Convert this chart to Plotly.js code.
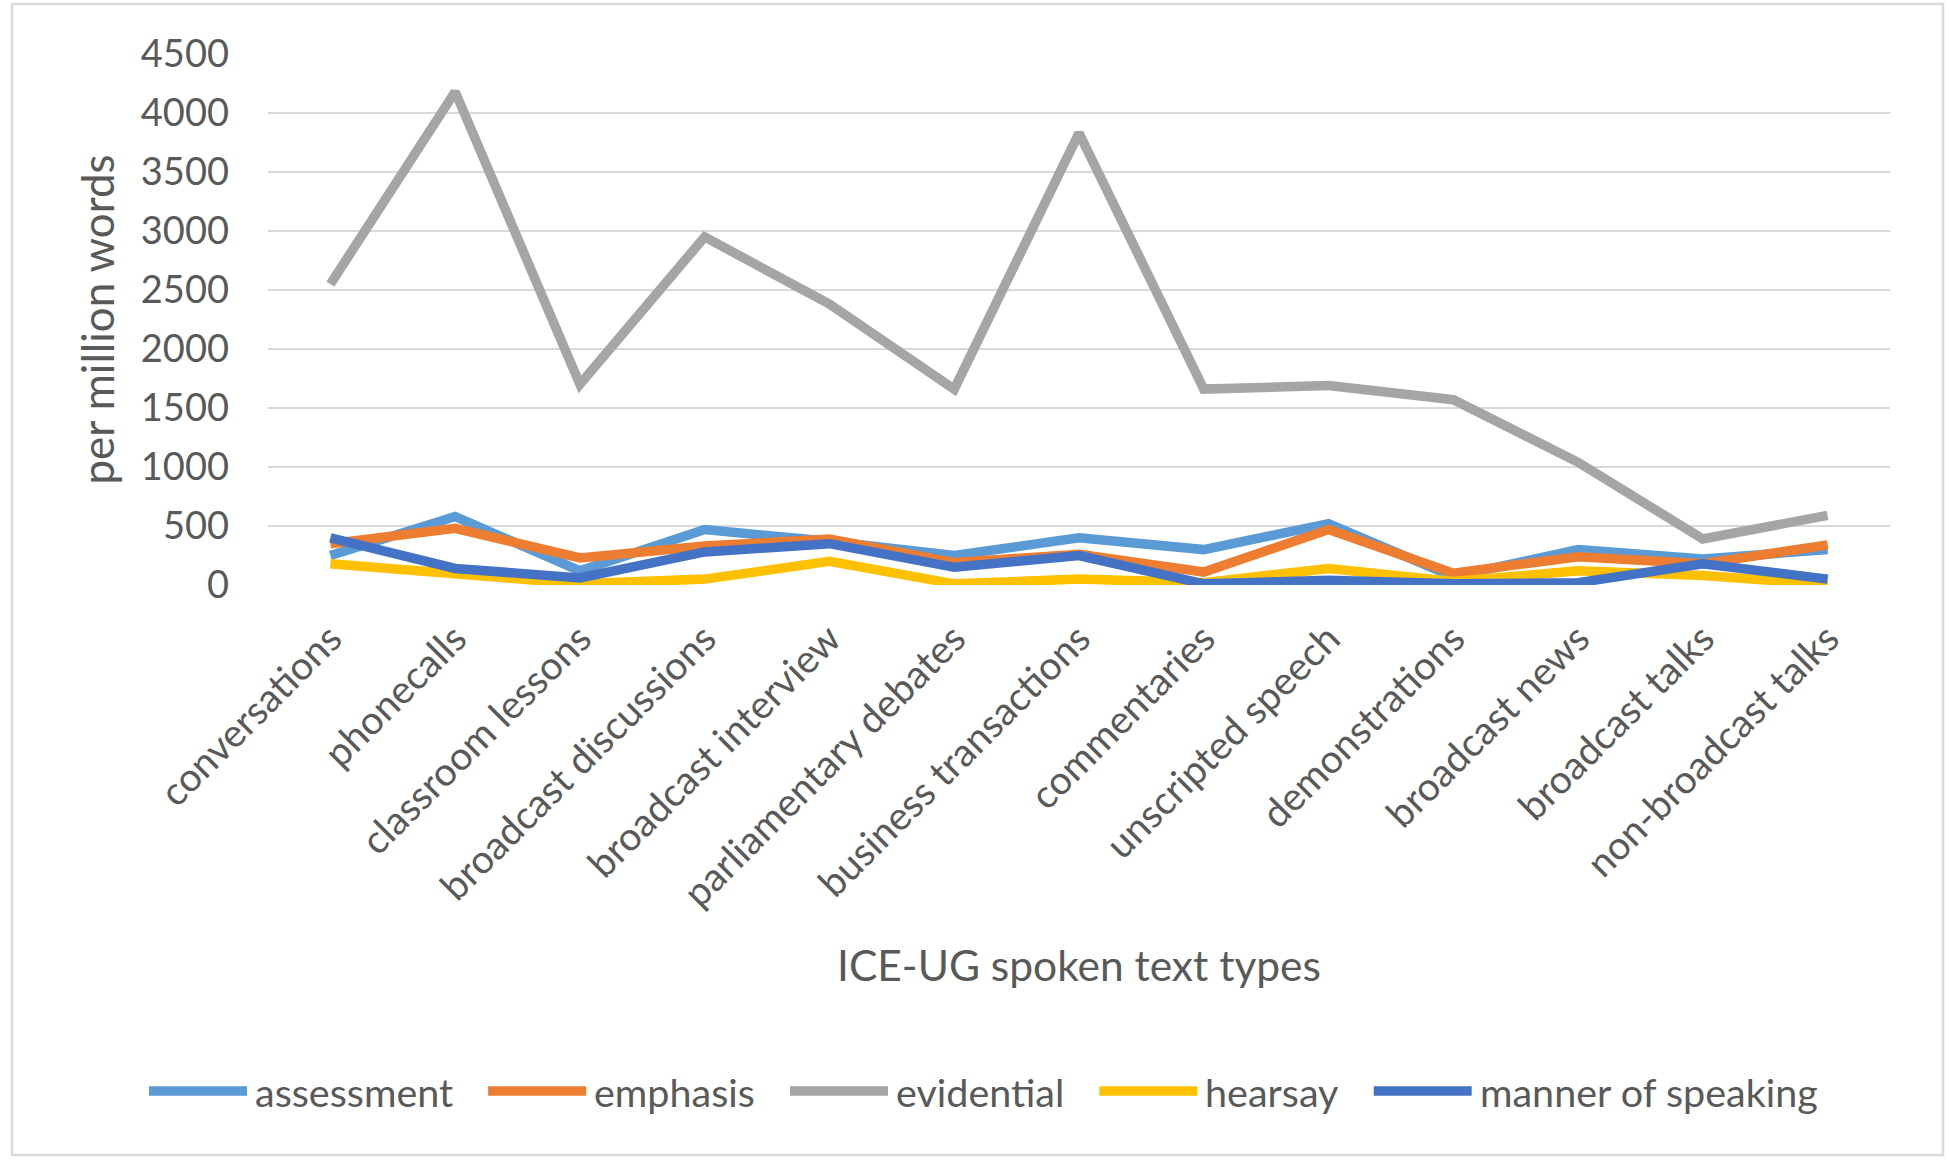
<!DOCTYPE html>
<html>
<head>
<meta charset="utf-8">
<script src="https://cdn.plot.ly/plotly-3.0.1.min.js"></script>
<style>
  html, body { margin: 0; padding: 0; background: #fff; }
  #chart { width: 1950px; height: 1167px; }
</style>
</head>
<body>
<div id="chart"></div>
<script>
// spoken text types of ICE-UG (x axis)
var categories = [ 'conversations', 'phonecalls', 'classroom lessons', 'broadcast discussions',
    'broadcast interview', 'parliamentary debates', 'business transactions', 'commentaries',
    'unscripted speech', 'demonstrations', 'broadcast news', 'broadcast talks', 'non-broadcast talks' ];

// per million words
var assessment = [ 250, 580, 120, 470, 370, 250, 400, 300, 520, 70, 300, 220, 300 ];
var emphasis   = [ 350, 480, 230, 330, 390, 190, 260, 110, 470, 100, 240, 180, 340 ];
var evidential = [ 2550, 4180, 1700, 2950, 2380, 1660, 3830, 1660, 1690, 1570, 1040, 390, 590 ];
var hearsay    = [ 180, 90, 10, 50, 200, 10, 50, 20, 140, 30, 120, 80, 5 ];
var manner     = [ 400, 140, 60, 280, 350, 150, 250, 10, 40, 10, 20, 180, 50 ];

var seriesNames = [ 'assessment', 'emphasis', 'evidential', 'hearsay', 'manner of speaking' ];
var seriesColors = [ '#5B9BD5', '#ED7D31', '#A5A5A5', '#FFC000', '#4472C4' ];

var yTicks = [ 0, 500, 1000, 1500, 2000, 2500, 3000, 3500, 4000, 4500 ];

var FONT = 'Lato, "Open Sans", sans-serif';
var TEXT = '#595959';

var W = 1950, H = 1167;
var M = { l: 268, r: 60, t: 54, b: 582 };
var plotW = W - M.l - M.r;
var plotH = H - M.t - M.b;

function makeTrace( values, i ) {
    return {
        x: categories,
        y: values,
        name: seriesNames[ i ],
        type: 'scatter',
        mode: 'lines',
        line: { color: seriesColors[ i ], width: 9.5 },
        showlegend: false,
        hoverinfo: 'x+y+name'
    };
}

var data = [ assessment, emphasis, evidential, hearsay, manner ].map( makeTrace );

// Excel style legend: long line sample + label, centred under the chart
function measureText( text, size ) {
    let ctx = document.createElement( 'canvas' ).getContext( '2d' );
    ctx.font = size + 'px Lato';
    return ctx.measureText( text ).width;
}

function buildLegend( fontSize ) {
    let lineLen = 98, lineGap = 6, itemGap = 37;
    let centerPx = 983, yPx = 1091;
    let widths = seriesNames.map( n => measureText( n, fontSize ) );
    let total = widths.reduce( ( a, w ) => a + lineLen + lineGap + w, 0 ) + itemGap * ( widths.length - 1 );
    let x = centerPx - total / 2;
    let yPaper = ( H - M.b - yPx ) / plotH;
    let toPaper = px => ( px - M.l ) / plotW;
    let shapes = [], annotations = [];

    for ( let i = 0; i < seriesNames.length; ++i ) {
        shapes.push({
            type: 'line', xref: 'paper', yref: 'paper',
            x0: toPaper( x ), x1: toPaper( x + lineLen ), y0: yPaper, y1: yPaper,
            line: { color: seriesColors[ i ], width: 9.5 }
        });
        annotations.push({
            xref: 'paper', yref: 'paper',
            x: toPaper( x + lineLen + lineGap ), y: yPaper,
            xanchor: 'left', yanchor: 'middle',
            text: seriesNames[ i ],
            showarrow: false,
            font: { family: FONT, size: fontSize, color: TEXT }
        });
        x += lineLen + lineGap + widths[ i ] + itemGap;
    }
    return { shapes: shapes, annotations: annotations };
}

var legend = buildLegend( 39.5 );

var layout = {
    width: W,
    height: H,
    paper_bgcolor: '#ffffff',
    plot_bgcolor: '#ffffff',
    margin: { l: M.l, r: M.r, t: M.t, b: M.b, pad: 0 },
    font: { family: FONT, color: TEXT, size: 38 },
    showlegend: false,
    xaxis: {
        type: 'category',
        range: [ -0.5, categories.length - 0.5 ],
        tickangle: -45,
        ticks: '',
        showgrid: false,
        zeroline: false,
        showline: false,
        ticklabelstandoff: 22,
        tickfont: { family: FONT, size: 39, color: TEXT },
        automargin: false,
        title: {
            text: 'ICE-UG spoken text types',
            font: { family: FONT, size: 42.5, color: TEXT },
            standoff: 37
        }
    },
    yaxis: {
        range: [ 0, 4500 ],
        tickvals: yTicks,
        ticks: '',
        showgrid: true,
        gridcolor: '#D9D9D9',
        gridwidth: 2.5,
        zeroline: false,
        showline: false,
        ticklabelstandoff: 38,
        tickfont: { family: FONT, size: 38, color: TEXT },
        automargin: false,
        title: {
            text: 'per million words',
            font: { family: FONT, size: 44, color: TEXT },
            standoff: 12
        }
    },
    shapes: [
        // chart border
        {
            type: 'rect', xref: 'paper', yref: 'paper',
            x0: -0.1578, x1: 1.0327, y0: -1.0734, y1: 1.094,
            line: { color: '#D9D9D9', width: 2.5 },
            fillcolor: 'rgba(0,0,0,0)',
            layer: 'below'
        }
    ].concat( legend.shapes ),
    annotations: legend.annotations
};

Plotly.newPlot( 'chart', data, layout, { displayModeBar: false, staticPlot: true } );
</script>
</body>
</html>
